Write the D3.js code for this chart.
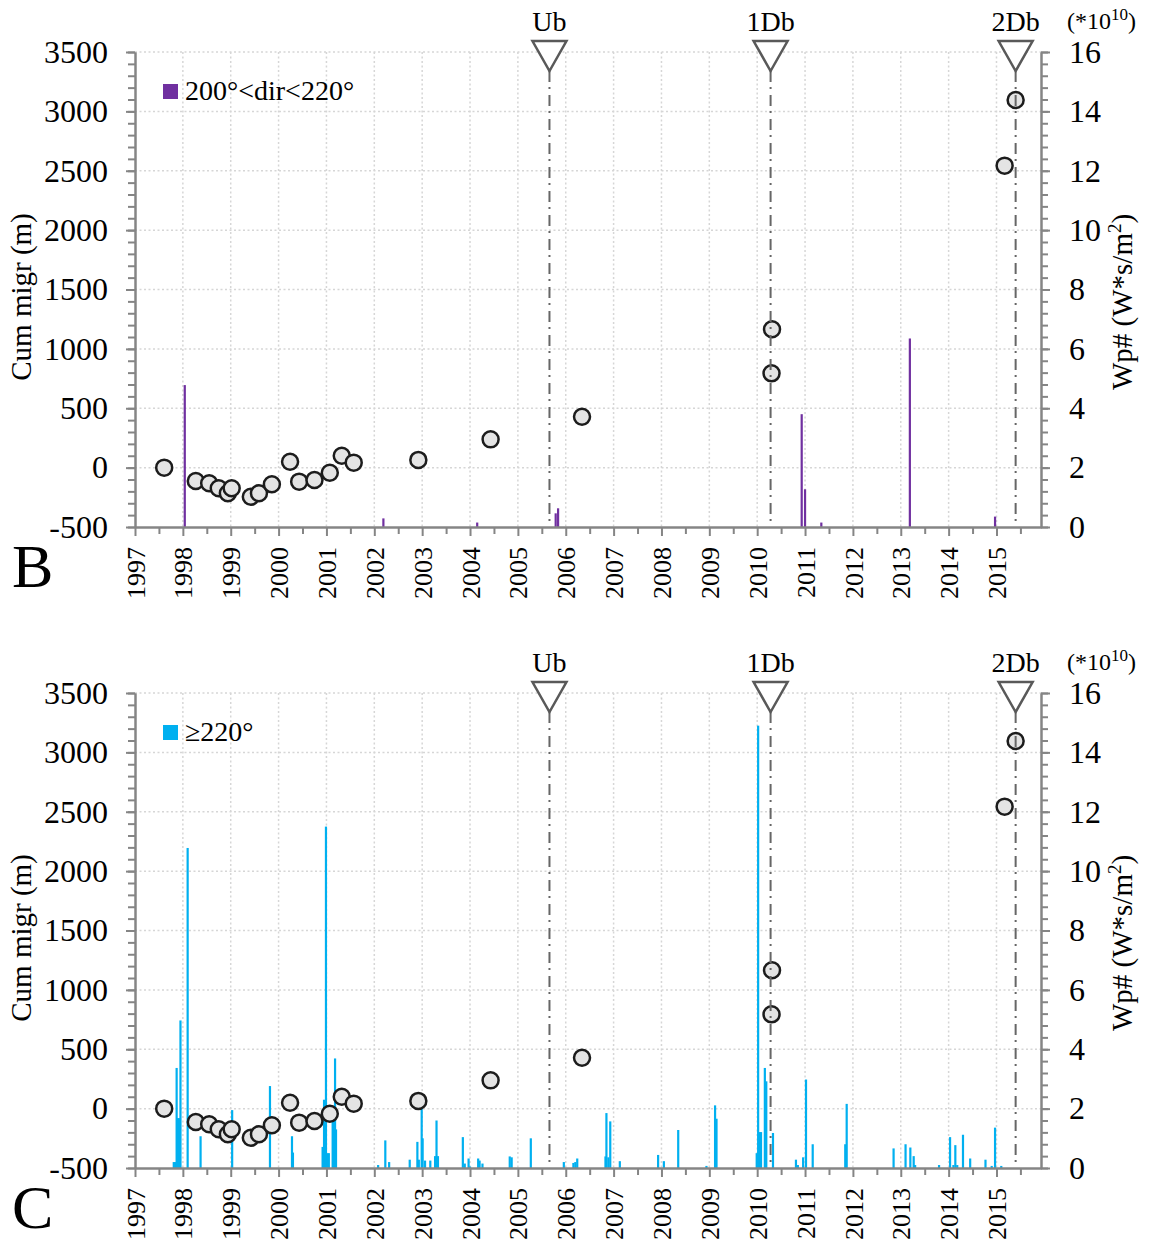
<!DOCTYPE html>
<html lang="en">
<head>
<meta charset="UTF-8">
<title>Cum migr and Wp#</title>
<script src="https://d3js.org/d3.v7.min.js"></script>
<style>
  body { margin: 0; background: #fff; }
  svg text { font-family: "Liberation Serif", "Times New Roman", serif; fill: #000; }
</style>
</head>
<body>
<div id="chart"></div>
<script>
// cumulative migration (m), same points in both panels
const migrYears = [1997.61, 1998.27, 1998.55, 1998.75, 1998.94, 1999.02, 1999.42, 1999.59, 1999.86,
  2000.24, 2000.43, 2000.75, 2001.07, 2001.32, 2001.57, 2002.92, 2004.43, 2006.34,
  2010.30, 2010.31, 2015.17, 2015.40];
const migrValues = [0, -113, -132, -174, -216, -174, -245, -216, -140,
  50, -118, -104, -43, 100, 42, 65, 238, 429,
  794, 1165, 2543, 3096];

// Wp# (*10^10 W*s/m2), panel B: 200° < dir < 220°
const bYears = [1998.04, 2002.19, 2004.15, 2005.79, 2005.84, 2010.93, 2011.00, 2011.34, 2013.19, 2014.97];
const bValues = [4.78, 0.29, 0.15, 0.46, 0.63, 3.80, 1.27, 0.15, 6.35, 0.35];

// Wp# panel C: dir >= 220°
const cYears = [1997.81, 1997.84, 1997.87, 1997.90, 1997.93, 1997.95, 1998.10, 1998.37, 1999.03, 1999.82,
  2000.28, 2000.30, 2000.92, 2000.95, 2000.99, 2001.02, 2001.05, 2001.13, 2001.16, 2001.18, 2001.20,
  2002.08, 2002.23, 2002.31, 2002.74, 2002.90, 2002.93, 2002.99, 2003.01, 2003.06, 2003.17, 2003.27, 2003.30, 2003.33,
  2003.85, 2003.89, 2003.97, 2004.00, 2004.17, 2004.20, 2004.26,
  2004.83, 2004.87, 2005.27, 2005.96, 2006.16, 2006.20, 2006.24,
  2006.83, 2006.85, 2006.89, 2006.93, 2007.13, 2007.93, 2008.05, 2008.35, 2008.94, 2009.12, 2009.15,
  2009.99, 2010.02, 2010.05, 2010.08, 2010.16, 2010.19, 2010.33,
  2010.81, 2010.85, 2010.96, 2011.02, 2011.16, 2011.84, 2011.87,
  2012.85, 2013.10, 2013.20, 2013.27, 2013.30, 2013.80, 2014.03, 2014.10, 2014.14, 2014.18,
  2014.30, 2014.45, 2014.77, 2014.90, 2014.97, 2015.10];
const cValues = [0.20, 0.20, 3.37, 1.68, 1.68, 4.97, 10.78, 1.07, 1.95, 2.76,
  1.07, 0.52, 0.71, 2.30, 11.50, 0.50, 0.50, 1.60, 1.60, 3.69, 1.30,
  0.10, 0.93, 0.20, 0.28, 0.88, 0.28, 2.06, 1.00, 0.25, 0.25, 0.40, 1.60, 0.40,
  1.04, 0.15, 0.32, 0.05, 0.32, 0.25, 0.15,
  0.39, 0.36, 1.00, 0.20, 0.17, 0.20, 0.32,
  0.39, 1.85, 0.36, 1.57, 0.23, 0.44, 0.23, 1.28, 0.07, 2.11, 1.66,
  0.50, 14.90, 1.21, 1.21, 3.37, 2.92, 1.18,
  0.28, 0.10, 0.36, 2.98, 0.80, 0.80, 2.16,
  0.66, 0.80, 0.69, 0.40, 0.10, 0.10, 1.04, 0.10, 0.77, 0.10,
  1.12, 0.32, 0.28, 0.07, 1.36, 0.07];

// event markers
const eventNames = ['Ub', '1Db', '2Db'];
const eventYears = [2005.66, 2010.28, 2015.40];

const yearTicks = d3.range(1997, 2016);
const halfYearTicks = d3.range(1997.5, 2016, 1);
const leftTicks = d3.range(-500, 3501, 500);
const leftMinor = d3.range(-500, 3501, 100);
const rightTicks = d3.range(0, 17, 2);
const rightMinor = d3.range(0, 16.01, 0.4);

const width = 1151, height = 1250;
const svg = d3.select('#chart').append('svg')
  .attr('width', width).attr('height', height);

const x = d3.scaleLinear().domain([1997, 2015.93]).range([135, 1041]);
const yL = d3.scaleLinear().domain([-500, 3500]).range([527, 52]);
const yR = d3.scaleLinear().domain([0, 16]).range([527, 52]);

const axisColor = '#858585';

function drawPanel(offset, years, values, color, legendText, letter) {
  const g = svg.append('g').attr('transform', 'translate(0,' + offset + ')');

  // dotted grid
  g.append('g').selectAll('line').data(leftTicks.filter(d => d > -500)).enter()
    .append('line')
    .attr('x1', x(1997)).attr('x2', x.range()[1])
    .attr('y1', d => yL(d)).attr('y2', d => yL(d))
    .attr('stroke', '#d6d6d6').attr('stroke-width', 1.5).attr('stroke-dasharray', '2,2.5');
  g.append('g').selectAll('line').data(yearTicks.filter(d => d > 1997)).enter()
    .append('line')
    .attr('x1', d => x(d)).attr('x2', d => x(d))
    .attr('y1', yL(3500)).attr('y2', yL(-500))
    .attr('stroke', '#d6d6d6').attr('stroke-width', 1.5).attr('stroke-dasharray', '2,2.5');

  // Wp# bars
  g.append('g').selectAll('rect').data(years.map((d, i) => [d, values[i]])).enter()
    .append('rect')
    .attr('x', d => x(d[0]) - 1.1)
    .attr('width', 2.2)
    .attr('y', d => yR(d[1]))
    .attr('height', d => yR(0) - yR(d[1]))
    .attr('fill', color);

  // migration points
  g.append('g').selectAll('circle').data(migrYears.map((d, i) => [d, migrValues[i]])).enter()
    .append('circle')
    .attr('cx', d => x(d[0]))
    .attr('cy', d => yL(d[1]))
    .attr('r', 8)
    .attr('fill', '#e4e4e4')
    .attr('stroke', '#1c1c1c')
    .attr('stroke-width', 2.5);

  // event lines
  g.append('g').selectAll('line').data(eventYears).enter()
    .append('line')
    .attr('x1', d => x(d)).attr('x2', d => x(d))
    .attr('y1', 71).attr('y2', yL(-500))
    .attr('stroke', '#666').attr('stroke-width', 2)
    .attr('stroke-dasharray', '11,5,2,6');

  // axes
  const left = g.append('g').attr('transform', 'translate(' + x(1997) + ',0)');
  left.call(d3.axisLeft(yL).tickValues(leftMinor).tickSize(7).tickSizeOuter(0).tickFormat(''));
  left.append('g').call(d3.axisLeft(yL).tickValues(leftTicks).tickSize(9).tickSizeOuter(0)
    .tickFormat(d => String(d)));
  left.selectAll('text').attr('x', -27).style('font-size', '32px')
    .style('font-family', '"Liberation Serif", serif').attr('fill', '#000');

  const right = g.append('g').attr('transform', 'translate(' + x.range()[1] + ',0)');
  right.call(d3.axisRight(yR).tickValues(rightMinor).tickSize(7).tickSizeOuter(0).tickFormat(''));
  right.append('g').call(d3.axisRight(yR).tickValues(rightTicks).tickSize(9).tickSizeOuter(0)
    .tickFormat(d => String(d)));
  right.selectAll('text').attr('x', 28).style('font-size', '32px')
    .style('font-family', '"Liberation Serif", serif').attr('fill', '#000');

  const bottom = g.append('g').attr('transform', 'translate(0,' + yL(-500) + ')');
  bottom.call(d3.axisBottom(x).tickValues(halfYearTicks.filter(d => d < 2015.93)).tickSize(7).tickSizeOuter(0).tickFormat(''));
  bottom.append('g').call(d3.axisBottom(x).tickValues(yearTicks).tickSize(9).tickSizeOuter(0)
    .tickFormat(d => String(d)));
  bottom.selectAll('text')
    .style('font-size', '26px')
    .style('font-family', '"Liberation Serif", serif')
    .attr('fill', '#000')
    .attr('text-anchor', 'end')
    .attr('transform', 'translate(0,20) rotate(-90)')
    .attr('x', 0).attr('y', 0).attr('dy', '0.35em');

  g.selectAll('.domain').attr('stroke', axisColor).attr('stroke-width', 2);
  g.selectAll('.tick line').attr('stroke', axisColor).attr('stroke-width', 2);

  // event triangles and labels
  const ev = g.append('g').selectAll('g').data(eventYears).enter().append('g');
  ev.append('path')
    .attr('d', d => 'M' + (x(d) - 17) + ',41 L' + (x(d) + 17) + ',41 L' + x(d) + ',71 Z')
    .attr('fill', '#fff').attr('stroke', '#595959').attr('stroke-width', 2.5)
    .attr('stroke-linejoin', 'miter');
  ev.append('text')
    .attr('x', d => x(d)).attr('y', 31)
    .attr('text-anchor', 'middle')
    .style('font-size', '28px')
    .text((d, i) => eventNames[i]);

  // scale factor
  const sf = g.append('text').attr('x', 1067).attr('y', 29).style('font-size', '24px');
  sf.append('tspan').text('(*10');
  sf.append('tspan').attr('dy', -9).style('font-size', '17px').text('10');
  sf.append('tspan').attr('dy', 9).text(')');

  // legend
  g.append('rect').attr('x', 163).attr('y', 84).attr('width', 15).attr('height', 15).attr('fill', color);
  g.append('text').attr('x', 185).attr('y', 100).style('font-size', '28px').text(legendText);

  // axis titles
  g.append('text')
    .attr('transform', 'translate(31,297) rotate(-90)')
    .attr('text-anchor', 'middle')
    .style('font-size', '29px')
    .text('Cum migr (m)');
  const rt = g.append('text')
    .attr('transform', 'translate(1132,302) rotate(-90)')
    .attr('text-anchor', 'middle')
    .style('font-size', '29px');
  rt.append('tspan').text('Wp# (W*s/m');
  rt.append('tspan').attr('dy', -11).style('font-size', '19px').text('2');
  rt.append('tspan').attr('dy', 11).text(')');

  // panel letter
  g.append('text').attr('x', 12).attr('y', 587).style('font-size', '62px').text(letter);
}

drawPanel(0, bYears, bValues, '#7030a0', '200°<dir<220°', 'B');
drawPanel(641, cYears, cValues, '#00b0f0', '≥220°', 'C');
</script>
</body>
</html>
